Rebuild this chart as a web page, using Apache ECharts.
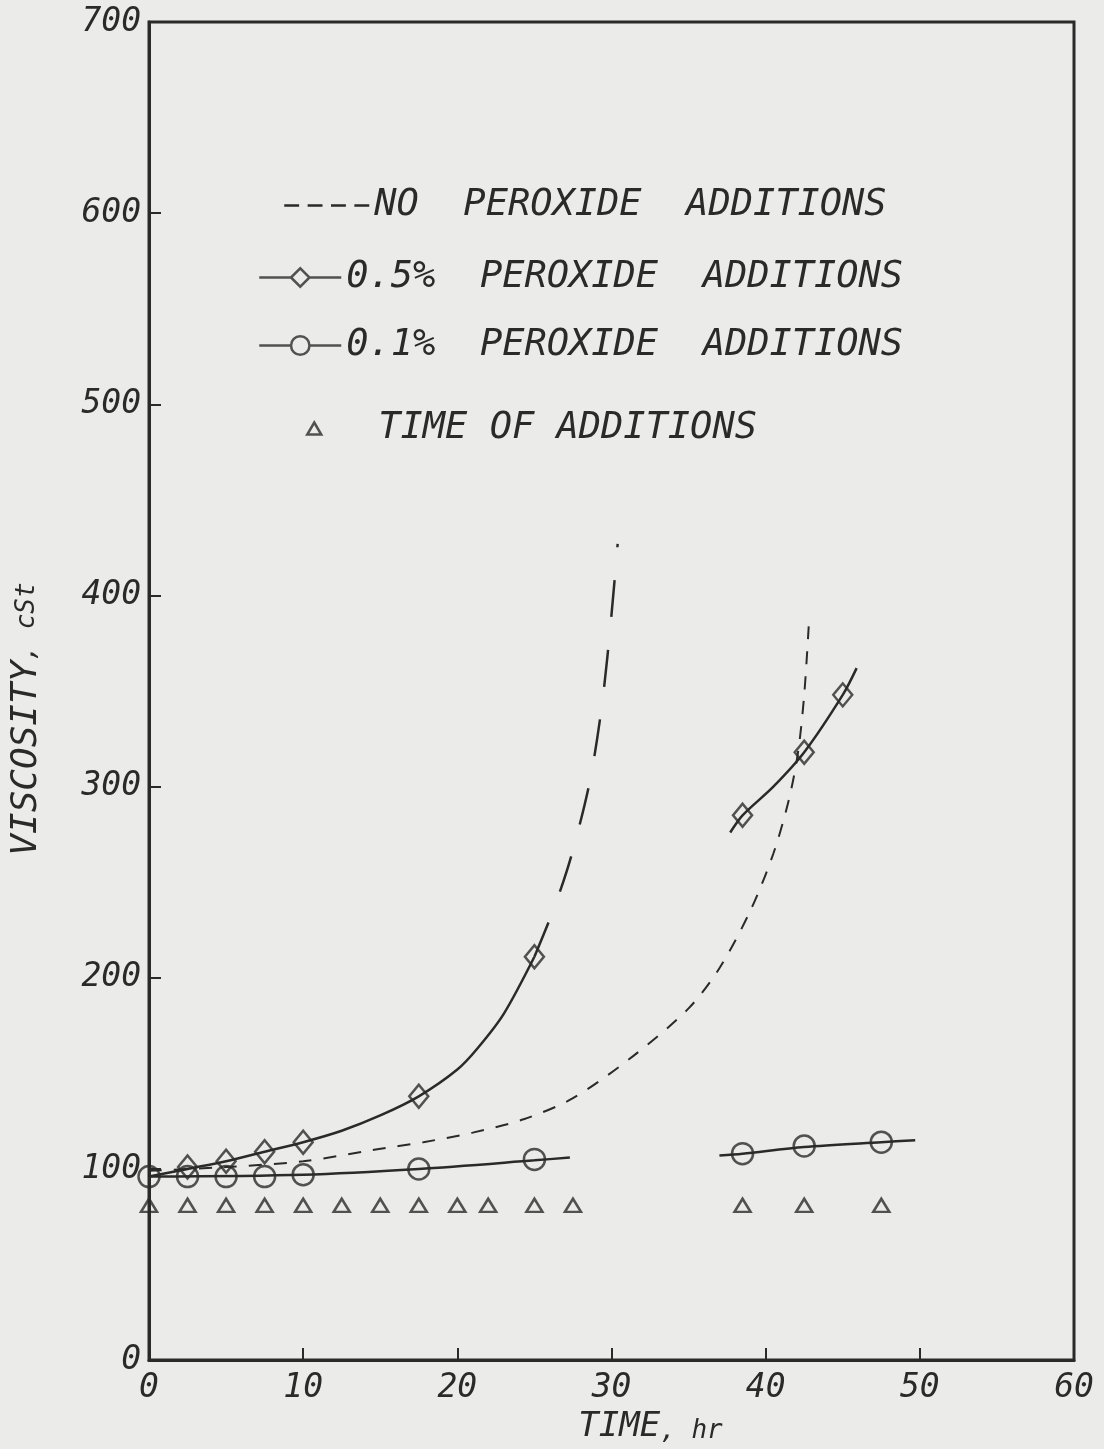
<!DOCTYPE html>
<html>
<head>
<meta charset="utf-8">
<title>Viscosity vs time with peroxide additions</title>
<script src="https://cdn.jsdelivr.net/npm/echarts@6/dist/echarts.min.js"></script>
<style>
  html, body { margin: 0; padding: 0; background: #ebebea; }
  #chart { width: 1104px; height: 1449px; }
</style>
</head>
<body>
<div id="chart"></div>
<script>
// ---- data: time (hr) vs kinematic viscosity (cSt) ----
const xTicks = [0, 10, 20, 30, 40, 50, 60];
const yTicks = [0, 100, 200, 300, 400, 500, 600, 700];

// dashed reference curve, no peroxide added
const noPeroxideCurve = [[0, 99], [5, 101], [10, 104], [14.6, 110], [17.8, 114], [21, 119], [24.3, 126],
  [27.5, 137], [31.4, 159], [35, 184], [37, 205], [39, 235], [40.5, 265], [41.5, 293], [42.1, 318],
  [42.5, 348], [42.8, 385]];

// 0.5 % peroxide additions: measured points, fitted curve and its extrapolation
const pts05 = [[2.5, 101], [5, 104], [7.5, 109], [10, 114], [17.5, 138], [25, 211], [38.5, 285], [42.5, 318], [45, 348]];
const fit05a = [[0, 96], [2.5, 100], [5, 104], [7.5, 109], [10, 114], [12.5, 120], [15, 128], [17.5, 138],
  [20, 152], [21.3, 163], [23, 181], [25, 211]];
const ext05 = [[25, 211], [26.3, 237], [27.4, 264], [28.6, 303], [29.4, 344], [30, 390], [30.4, 427]];
const fit05b = [[37.7, 276], [38.5, 285], [40.5, 300], [42.5, 318], [45, 348], [45.9, 362]];

// 0.1 % peroxide additions: measured points and fitted curves
const pts01 = [[0, 96], [2.5, 96], [5, 96], [7.5, 96], [10, 97], [17.5, 100], [25, 105], [38.5, 108], [42.5, 112], [47.5, 114]];
const fit01a = [[0, 96], [10, 97], [17.5, 100], [25, 104.5], [27.3, 106]];
const fit01b = [[37, 107], [38.5, 108], [42.5, 111.5], [47.5, 114], [49.7, 115]];

// times at which peroxide was added, marked along a row near the bottom
const additionTimes = [0, 2.5, 5, 7.5, 10, 12.5, 15, 17.5, 20, 22, 25, 27.5, 38.5, 42.5, 47.5];
const additionRow = [81];

const seriesNames = ['NO PEROXIDE ADDITIONS', '0.5% PEROXIDE ADDITIONS', '0.1% PEROXIDE ADDITIONS', 'TIME OF ADDITIONS'];

// ---- styling ----
const INK = '#2a2a2a';
const FONT = "'DejaVu Sans Mono', monospace";

const chart = echarts.init(document.getElementById('chart'), null, { renderer: 'canvas' });

function fitLine(data, dash, width) {
  return {
    type: 'line', data: data, symbol: 'none', smooth: 0.3,
    lineStyle: { color: INK, width: width || 2.5, type: dash || 'solid' },
    silent: true, z: 2
  };
}

function legendItem(name, left, top, icon, w, h, gap) {
  return {
    left: left, top: top, padding: 0, orient: 'horizontal', selectedMode: false,
    itemWidth: w, itemHeight: h,
    formatter: n => n.split(' ').join(gap),
    textStyle: { fontFamily: FONT, fontStyle: 'italic', fontSize: 37, color: INK },
    data: [{ name: name, icon: icon, itemStyle: { color: 'transparent', borderColor: INK, borderWidth: 2.5 } }]
  };
}

const option = {
  backgroundColor: '#ebebea',
  animation: false,
  grid: { left: 149, right: 30, top: 22, bottom: 87, show: true, borderColor: INK, borderWidth: 3, backgroundColor: 'transparent' },
  legend: [
    legendItem(seriesNames[0], 283, 187, 'path://M0,0 M0,4 L14,4 M22,4 L36,4 M44,4 L58,4 M66,4 L80,4 M0,8', 85, 9, '  '),
    legendItem(seriesNames[1], 258, 259, 'path://M0,12 L31,12 L40,3 L49,12 L40,21 L31,12 M49,12 L80,12', 82, 22, '  '),
    legendItem(seriesNames[2], 258, 327, 'path://M0,12 L31,12 A9,9 0 1,1 49,12 A9,9 0 1,1 31,12 M49,12 L80,12', 82, 22, '  '),
    legendItem(seriesNames[3], 306, 410, 'path://M7,0 L14,12 L0,12 Z M66,12', 66, 12, ' ')
  ],
  xAxis: {
    type: 'value', min: xTicks[0], max: xTicks[xTicks.length - 1], interval: 10,
    name: '{a|TIME}{b|, hr}', nameLocation: 'middle', nameGap: 44,
    nameTextStyle: {
      padding: [0, 0, 0, 78],
      rich: {
        a: { fontFamily: FONT, fontStyle: 'italic', fontSize: 34, color: INK },
        b: { fontFamily: FONT, fontStyle: 'italic', fontSize: 26, color: INK, verticalAlign: 'bottom' }
      }
    },
    axisLine: { lineStyle: { color: INK, width: 3 } },
    axisTick: { inside: true, length: 12, lineStyle: { color: INK, width: 2 } },
    axisLabel: { margin: 12, fontFamily: FONT, fontStyle: 'italic', fontSize: 33, color: INK,
      formatter: v => String(v) },
    splitLine: { show: false }
  },
  yAxis: {
    type: 'value', min: yTicks[0], max: yTicks[yTicks.length - 1], interval: 100,
    name: '{a|VISCOSITY}{b|, cSt}', nameLocation: 'middle', nameGap: 104, nameRotate: 90,
    nameTextStyle: {
      padding: [0, 56, 0, 0],
      rich: {
        a: { fontFamily: FONT, fontStyle: 'italic', fontSize: 36, color: INK },
        b: { fontFamily: FONT, fontStyle: 'italic', fontSize: 26, color: INK }
      }
    },
    axisLine: { lineStyle: { color: INK, width: 3 } },
    axisTick: { inside: true, length: 12, lineStyle: { color: INK, width: 2 } },
    axisLabel: { margin: 8, fontFamily: FONT, fontStyle: 'italic', fontSize: 33, color: INK,
      formatter: v => String(v) },
    splitLine: { show: false }
  },
  series: [
    Object.assign(fitLine(noPeroxideCurve, [13, 12], 2), { name: seriesNames[0] }),
    fitLine(fit05a),
    fitLine(ext05, [37, 33], 2.5),
    fitLine(fit05b),
    fitLine(fit01a),
    fitLine(fit01b),
    {
      name: seriesNames[1], type: 'scatter', data: pts05, symbol: 'diamond', symbolSize: [19, 23],
      itemStyle: { color: 'transparent', borderColor: INK, borderWidth: 2.5 }, z: 3
    },
    {
      name: seriesNames[2], type: 'scatter', data: pts01, symbol: 'circle', symbolSize: 21,
      itemStyle: { color: 'transparent', borderColor: INK, borderWidth: 2.5 }, z: 3
    },
    {
      name: seriesNames[3], type: 'scatter',
      data: additionTimes.map(t => [t, additionRow[0]]),
      symbol: 'triangle', symbolSize: [16, 13],
      itemStyle: { color: 'transparent', borderColor: INK, borderWidth: 2.5 }, z: 3
    }
  ]
};

chart.setOption(option);
</script>
</body>
</html>
